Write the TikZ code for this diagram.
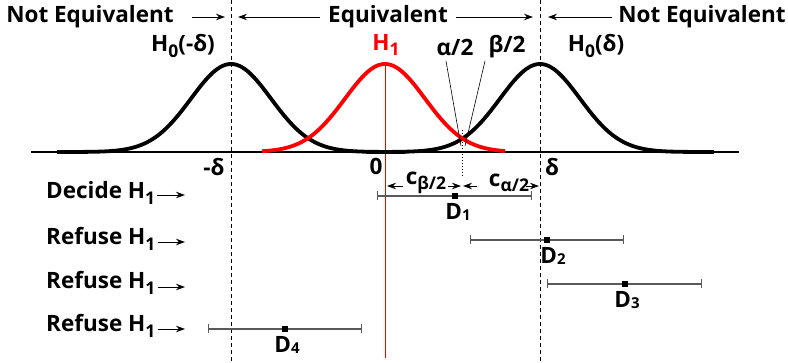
\documentclass[tikz,border=0pt]{standalone}
\usepackage{fontspec}
\setmainfont{Open Sans}
\usetikzlibrary{arrows.meta}
\newcommand{\mysub}[1]{\raisebox{-0.45ex}{\fontsize{17.5}{17.5}\selectfont #1}}
\newcommand{\smsub}[1]{\raisebox{-0.1ex}{\fontsize{15}{15}\selectfont #1}}
\begin{document}
\begin{tikzpicture}[x=1pt,y=-1pt,
  lbl/.style={font=\fontsize{22.5}{24}\selectfont\bfseries, inner sep=0pt},
  thinarr/.style={-{Stealth[length=9pt,width=6.5pt]}, line width=0.9pt},
  ivl/.style={draw=black!65, line width=1.3pt, {Bar[width=9pt,line width=1pt]}-{Bar[width=9pt,line width=1pt]}},
  sq/.style={fill=black, minimum size=6pt, inner sep=0pt},
  curve/.style={line width=3.8pt},
  dashv/.style={dashed, line width=0.9pt, dash pattern=on 4pt off 3pt}]
\useasboundingbox (0,0) rectangle (788,363);
% axis
\coordinate (axl) at (31,152);
\coordinate (axr) at (739,152);
\draw[line width=1.5pt] (axl) -- (axr);
% vertical guides
\coordinate (mdt) at (231,0); \coordinate (mdb) at (231,363);
\coordinate (pdt) at (540,0); \coordinate (pdb) at (540,363);
\draw[dashv] (mdt) -- (mdb);
\draw[dashv] (pdt) -- (pdb);
\coordinate (zt) at (385,64); \coordinate (zb) at (385,358);
\draw[red, line width=1pt] (zt) -- (zb);
\coordinate (ct) at (462,130); \coordinate (cbt) at (462,178);
\draw[dotted, line width=1pt] (ct) -- (cbt);
% curves
\draw[curve] plot[domain=57:405, samples=140] (\x,{152-88*exp(-0.5*((\x-231)/40)^2)});
\draw[curve] plot[domain=366:714, samples=140] (\x,{152-88*exp(-0.5*((\x-540)/40)^2)});
\draw[curve, red] plot[domain=262:505, samples=120] (\x,{152-88*exp(-0.5*((\x-385)/40)^2)});
% top labels
\node[lbl] (ne1) at (90,17) {Not Equivalent};
\node[lbl] (eq) at (388,17) {Equivalent};
\node[lbl] (ne2) at (702,17) {Not Equivalent};
\coordinate (a1s) at (192,17); \coordinate (a1e) at (225,17);
\coordinate (a2s) at (320,17); \coordinate (a2e) at (238,17);
\coordinate (a3s) at (456,17); \coordinate (a3e) at (533,17);
\coordinate (a4s) at (612,17); \coordinate (a4e) at (548,17);
\draw[thinarr] (a1s) -- (a1e);
\draw[thinarr] (a2s) -- (a2e);
\draw[thinarr] (a3s) -- (a3e);
\draw[thinarr] (a4s) -- (a4e);
% curve labels
\node[lbl] (h0m) at (183,46) {H\mysub{0}(-δ)};
\node[lbl, text=red] (h1) at (386,45) {H\mysub{1}};
\node[lbl] (h0p) at (596,46) {H\mysub{0}(δ)};
\node[lbl] (al) at (455,47) {α/2};
\node[lbl] (be) at (507,47) {β/2};
\coordinate (alt) at (446,61); \coordinate (alb) at (461,146);
\coordinate (bet) at (485,61); \coordinate (beb) at (465,146);
\draw[line width=0.6pt] (alt) -- (alb);
\draw[line width=0.6pt] (bet) -- (beb);
% axis labels
\node[lbl] (md) at (214,167) {-δ};
\node[lbl] (zl) at (376,166) {0};
\node[lbl] (pd) at (552,167) {δ};
% c dimensions
\node[lbl] (cb) at (426,183) {c\mysub{β/2}};
\node[lbl] (ca) at (509,183) {c\mysub{α/2}};
\coordinate (cb1) at (403,186); \coordinate (cb1e) at (387,186);
\coordinate (cb2) at (448,186); \coordinate (cb2e) at (461,186);
\coordinate (ca1) at (477,186); \coordinate (ca1e) at (463,186);
\coordinate (ca2) at (526,186); \coordinate (ca2e) at (539,186);
\draw[thinarr] (cb1) -- (cb1e);
\draw[thinarr] (cb2) -- (cb2e);
\draw[thinarr] (ca1) -- (ca1e);
\draw[thinarr] (ca2) -- (ca2e);
% row labels
\node[lbl, anchor=west] (r1) at (46,193) {Decide H\mysub{1}};
\node[lbl, anchor=west] (r2) at (46,239) {Refuse H\mysub{1}};
\node[lbl, anchor=west] (r3) at (46,283) {Refuse H\mysub{1}};
\node[lbl, anchor=west] (r4) at (46,326) {Refuse H\mysub{1}};
\coordinate (r1e) at (185,195);
\coordinate (r2e) at (185,242);
\coordinate (r3e) at (185,287);
\coordinate (r4e) at (185,329);
\draw[thinarr] ([xshift=2pt]r1.east |- r1e) -- (r1e);
\draw[thinarr] ([xshift=2pt]r2.east |- r2e) -- (r2e);
\draw[thinarr] ([xshift=2pt]r3.east |- r3e) -- (r3e);
\draw[thinarr] ([xshift=2pt]r4.east |- r4e) -- (r4e);
% intervals
\coordinate (d1l) at (377,196); \coordinate (d1r) at (532,196);
\coordinate (d2l) at (470,240); \coordinate (d2r) at (624,240);
\coordinate (d3l) at (547,284); \coordinate (d3r) at (702,284);
\coordinate (d4l) at (208,329); \coordinate (d4r) at (362,329);
\draw[ivl] (d1l) -- (d1r);
\draw[ivl] (d2l) -- (d2r);
\draw[ivl] (d3l) -- (d3r);
\draw[ivl] (d4l) -- (d4r);
\node[sq] (s1) at (455,196) {};
\node[sq] (s2) at (547,240) {};
\node[sq] (s3) at (625,284) {};
\node[sq] (s4) at (285,329) {};
\node[lbl] (l1) at (458,212) {D\smsub{1}};
\node[lbl] (l2) at (553,256) {D\smsub{2}};
\node[lbl] (l3) at (627,300) {D\smsub{3}};
\node[lbl] (l4) at (287,345) {D\smsub{4}};
\end{tikzpicture}
\end{document}
